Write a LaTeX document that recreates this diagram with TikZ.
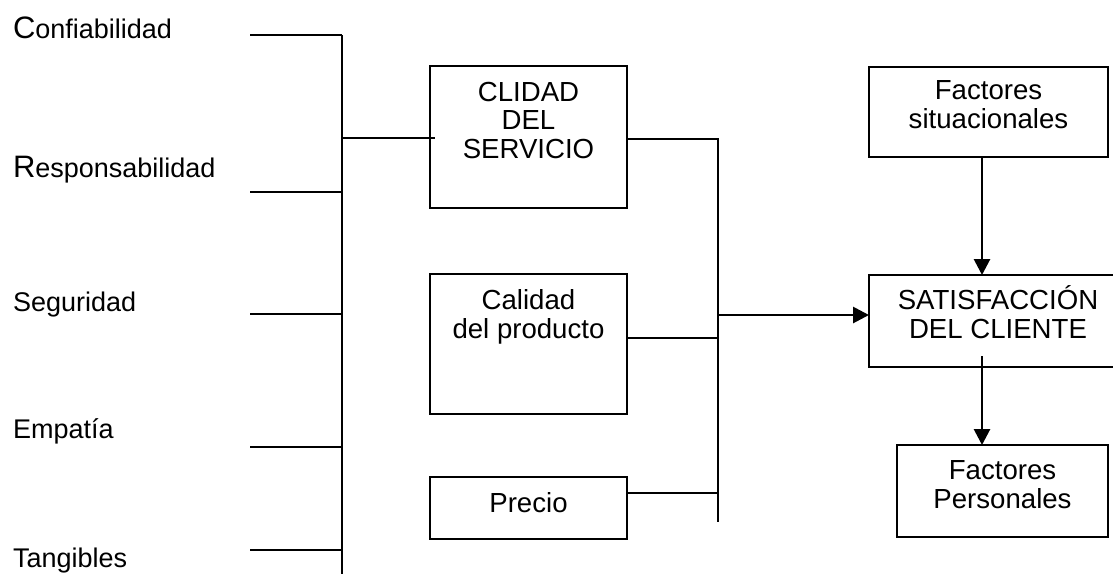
\documentclass[tikz,border=0pt]{standalone}
\usepackage{fontspec}
\setmainfont{Liberation Sans}
\usetikzlibrary{arrows.meta}
\begin{document}
\begin{tikzpicture}[x=0.5pt,y=-0.5pt,
  every node/.style={inner sep=0pt, outer sep=0pt},
  box/.style={draw, line width=1.1pt, anchor=north west},
  txt/.style={font=\fontsize{13.8}{14.25}\selectfont, align=center, anchor=base},
  lbl/.style={font=\fontsize{13.5}{14.25}\selectfont, anchor=base west},
  conn/.style={line width=1.1pt},
  arr/.style={line width=1.4pt, -{Triangle[length=8pt,width=8pt]}}]
\useasboundingbox (0,0) rectangle (1113,574);
% left labels
\newcommand{\bigini}[1]{{\fontsize{15.5}{15}\selectfont #1}}
\node[lbl] (confi) at (13,38) {\bigini{C}onfiabilidad};
\node[lbl] (respo) at (13,177) {\bigini{R}esponsabilidad};
\node[lbl] (segur) at (13,311) {Seguridad};
\node[lbl] (empat) at (13,438) {Empatía};
\node[lbl] (tangi) at (13,567) {Tangibles};
% bracket
\coordinate (btop) at (342,35);
\coordinate (bbot) at (342,574);
\draw[conn] (btop) -- (bbot);
\coordinate (l1) at (250,35);
\coordinate (l2) at (250,192);
\coordinate (l3) at (250,314);
\coordinate (l4) at (250,447);
\coordinate (l5) at (250,550);
\foreach \i in {1,...,5} \draw[conn] (l\i) -- (l\i -| btop);
% boxes
\node[box, minimum width=98.5pt, minimum height=71pt] (serv) at (430,66) {};
\node[box, minimum width=98.5pt, minimum height=70pt] (prod) at (430,274) {};
\node[box, minimum width=98.5pt, minimum height=31pt] (prec) at (430,477) {};
\node[box, minimum width=119.5pt, minimum height=45pt] (fsit) at (869,67) {};
\node[box, minimum width=129pt, minimum height=46pt] (sat) at (869,275) {};
\node[box, minimum width=105.5pt, minimum height=46pt] (fper) at (897,445) {};
% texts (base anchor = baseline of last line)
\node[txt] (servt) at (528.5,158) {CLIDAD\\DEL\\SERVICIO};
\node[txt] (prodt) at (528.5,338) {Calidad\\del producto};
\node[txt] (prect) at (528.5,512) {Precio};
\node[txt] (fsitt) at (988.5,128) {Factores\\situacionales};
\node[txt] (satt) at (998,338) {SATISFACCIÓN\\DEL CLIENTE};
\node[txt] (fpert) at (1002.5,508) {Factores\\Personales};
% connectors
\coordinate (jl) at (342,138);
\coordinate (jli) at (435,138);
\draw[conn] (jl) -- (jli);
\coordinate (mtop) at (718,139);
\coordinate (mbot) at (718,522);
\draw[conn] (serv.east |- mtop) -- (mtop) -- (mbot);
\coordinate (mp) at (718,338);
\draw[conn] (prod.east |- mp) -- (mp);
\coordinate (mc) at (718,493);
\draw[conn] (prec.east |- mc) -- (mc);
\coordinate (ma) at (718,315);
\draw[arr] (ma) -- (ma -| sat.west);
\coordinate (va) at (982,0);
\draw[arr] (va |- fsit.south) -- (va |- sat.north);
\coordinate (vb) at (982,356);
\draw[arr] (vb) -- (vb |- fper.north);
\end{tikzpicture}
\end{document}
